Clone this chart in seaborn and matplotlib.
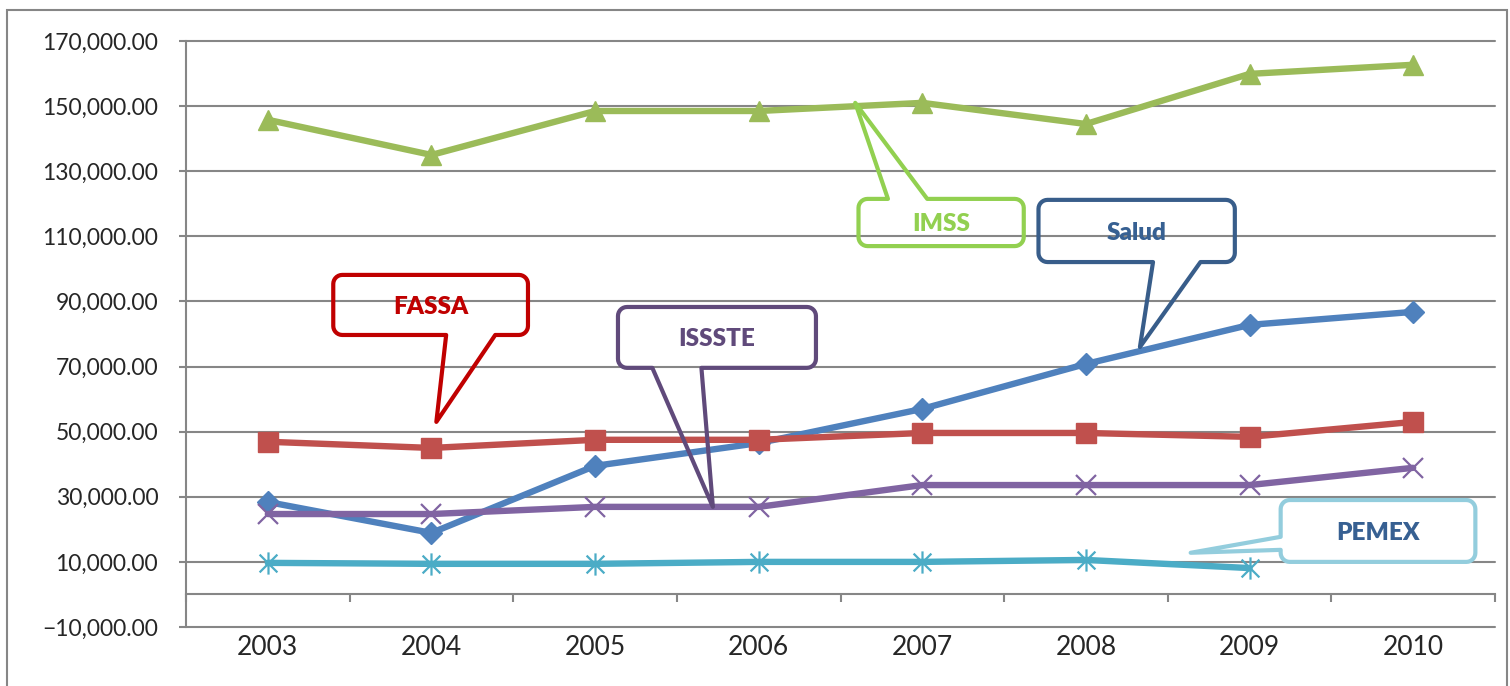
import numpy as np
import matplotlib.pyplot as plt
import seaborn as sns
from matplotlib.patches import Polygon, Rectangle
from matplotlib.transforms import IdentityTransform
from matplotlib.ticker import StrMethodFormatter
from matplotlib.path import Path

# --- data ---
years = [2003, 2004, 2005, 2006, 2007, 2008, 2009, 2010]
salud = [28400, 18900, 39500, 46500, 57000, 70800, 82800, 86800]
fassa = [46900, 45000, 47500, 47500, 49600, 49600, 48400, 53000]
imss = [145800, 135000, 148500, 148500, 151000, 144500, 159900, 162700]
issste = [24700, 24700, 26900, 26900, 33600, 33600, 33600, 38900]
pemex = [9700, 9400, 9400, 10000, 10000, 10600, 8100]  # no 2010 value
y_ticks = list(range(-10000, 170001, 20000))

# asterisk marker (x plus vertical bar)
asterisk = Path([(-1, -1), (1, 1), (-1, 1), (1, -1), (0, -1.25), (0, 1.25)],
                [Path.MOVETO, Path.LINETO, Path.MOVETO, Path.LINETO, Path.MOVETO, Path.LINETO])

series = [
    ("Salud", salud, "#4F81BD", "D", 11),
    ("FASSA", fassa, "#C0504D", "s", 14),
    ("IMSS", imss, "#9BBB59", "^", 15),
    ("ISSSTE", issste, "#8064A2", "x", 14),
    ("PEMEX", pemex, "#4BACC6", asterisk, 16),
]

# callouts: text, text colour, edge colour, box (x0, x1, y0, y1), side of pointer, pointer base, tip
callouts = [
    ("IMSS", "#92D050", "#92D050", (2006.61, 2007.62, 107000, 121500), "top", (2006.79, 2007.03), (2006.59, 151000)),
    ("Salud", "#376092", "#385D8A", (2007.71, 2008.91, 102100, 121200), "bottom", (2008.41, 2008.70), (2008.33, 76000)),
    ("FASSA", "#C00000", "#C00000", (2003.40, 2004.59, 79700, 98150), "bottom", (2004.09, 2004.39), (2004.03, 53000)),
    ("ISSSTE", "#604A7B", "#604A7B", (2005.14, 2006.35, 69600, 88300), "bottom", (2005.35, 2005.65), (2005.72, 26900)),
    ("PEMEX", "#376092", "#93CDDD", (2009.19, 2010.38, 10000, 29000), "left", (13700, 17700), (2008.64, 12800)),
]

sns.set_style("white")
plt.rcParams['font.family'] = ['Lato', 'DejaVu Sans']

grey = "#868686"
fig, ax = plt.subplots(figsize=(15.1, 6.86), dpi=100)
fig.subplots_adjust(left=186 / 1510, right=1495 / 1510, bottom=59 / 686, top=645 / 686)

for name, vals, color, mk, ms in series:
    sns.lineplot(x=years[:len(vals)], y=vals, ax=ax, color=color, linewidth=4.6,
                 marker=mk, markersize=ms, markeredgecolor=color,
                 markeredgewidth=1.6 if mk in ("x",) or mk is asterisk else 1)

ax.set_xlim(2002.5, 2010.5)
ax.set_ylim(-10000, 170000)

# y axis
ax.set_yticks(y_ticks)
ax.yaxis.set_major_formatter(StrMethodFormatter('{x:,.2f}'))
ax.tick_params(axis='y', left=True, length=5, width=1.5, color=grey, pad=15, labelsize=16.5)
ax.grid(axis='y', color=grey, linewidth=1.5)
ax.grid(axis='x', visible=False)
for gl in ax.get_ygridlines():
    gl.set_clip_on(False)
ax.set_axisbelow(True)

# category axis crossing at zero
ax.set_xticks(years)
ax.set_xticks(np.arange(2002.5, 2011, 1), minor=True)
ax.tick_params(axis='x', which='major', length=0, pad=29, labelsize=19)
ax.tick_params(axis='x', which='minor', bottom=True, length=6, width=1.5, color=grey, direction='out')
ax.spines['bottom'].set_position(('data', 0))
ax.spines['bottom'].set_color(grey)
ax.spines['bottom'].set_linewidth(1.5)
ax.spines['left'].set_color(grey)
ax.spines['left'].set_linewidth(1.5)
ax.spines['top'].set_visible(False)
ax.spines['right'].set_visible(False)
ax.set_xlabel("")
ax.set_ylabel("")


def outline(box, side, base, tip, r=9):
    T = ax.transData.transform
    x0, x1, y0, y1 = box
    px0, py0 = T((x0, y0))
    px1, py1 = T((x1, y1))
    tp = tuple(T(tip))
    if side == "left":
        b = [T((x0, v))[1] for v in base]
    else:
        b = [T((v, y0))[0] for v in base]

    def arc(cx, cy, a0, a1):
        a = np.radians(np.linspace(a0, a1, 8))
        return list(zip(cx + r * np.cos(a), cy + r * np.sin(a)))

    pts = [(px0 + r, py0)]
    if side == "bottom":
        pts += [(b[0], py0), tp, (b[1], py0)]
    pts += arc(px1 - r, py0 + r, -90, 0)
    pts += arc(px1 - r, py1 - r, 0, 90)
    if side == "top":
        pts += [(b[1], py1), tp, (b[0], py1)]
    pts += arc(px0 + r, py1 - r, 90, 180)
    if side == "left":
        pts += [(px0, b[1]), tp, (px0, b[0])]
    pts += arc(px0 + r, py0 + r, 180, 270)
    return pts


for text, tc, ec, box, side, base, tip in callouts:
    ax.add_patch(Polygon(outline(box, side, base, tip), closed=True, fill=False,
                         edgecolor=ec, linewidth=3, joinstyle='round',
                         transform=IdentityTransform(), zorder=5, clip_on=False))
    ax.text((box[0] + box[1]) / 2, (box[2] + box[3]) / 2, text, ha='center',
            va='center_baseline', fontsize=17.5, fontweight='heavy', color=tc, zorder=6)

# chart area border
fig.add_artist(Rectangle((7 / 1510, -0.05), 1500 / 1510, 676 / 686 + 0.05,
                         transform=fig.transFigure, fill=False, edgecolor=grey, linewidth=1.5))

fig.savefig("out.png", dpi=100)
